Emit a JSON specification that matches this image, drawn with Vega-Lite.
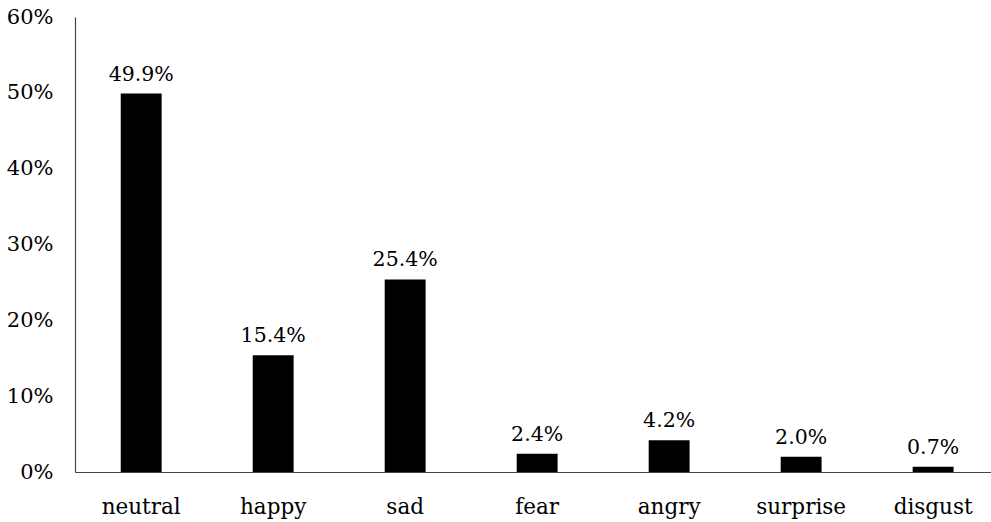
{
  "$schema": "https://vega.github.io/schema/vega-lite/v6.json",
  "width": 916,
  "height": 455,
  "autosize": {"type": "none"},
  "padding": {"left": 75, "top": 17, "right": 0, "bottom": 50},
  "background": "white",
  "config": {
    "view": {"stroke": null},
    "font": "DejaVu Serif",
    "axis": {"grid": false, "ticks": false, "domainColor": "#444", "domainWidth": 1.2, "labelColor": "black", "labelFont": "DejaVu Serif", "title": null}
  },
  "data": {
    "values": [
      {"emotion": "neutral", "share": 0.499},
      {"emotion": "happy", "share": 0.154},
      {"emotion": "sad", "share": 0.254},
      {"emotion": "fear", "share": 0.024},
      {"emotion": "angry", "share": 0.042},
      {"emotion": "surprise", "share": 0.020},
      {"emotion": "disgust", "share": 0.007}
    ]
  },
  "encoding": {
    "x": {
      "field": "emotion",
      "type": "nominal",
      "sort": null,
      "scale": {"paddingInner": 0.69, "paddingOuter": 0.315, "align": 0.55},
      "axis": {"labelAngle": 0, "labelFontSize": 21.5, "labelPadding": 24, "labelBaseline": "top"}
    },
    "y": {
      "field": "share",
      "type": "quantitative",
      "scale": {"domain": [0, 0.6]},
      "axis": {"format": ".0%", "values": [0, 0.1, 0.2, 0.3, 0.4, 0.5, 0.6], "labelFontSize": 21, "labelPadding": 22}
    }
  },
  "layer": [
    {"mark": {"type": "bar", "color": "black"}},
    {
      "mark": {"type": "text", "baseline": "alphabetic", "dy": -13, "fontSize": 20.5, "color": "black", "font": "DejaVu Serif"},
      "encoding": {"text": {"field": "share", "type": "quantitative", "format": ".1%"}}
    }
  ]
}
